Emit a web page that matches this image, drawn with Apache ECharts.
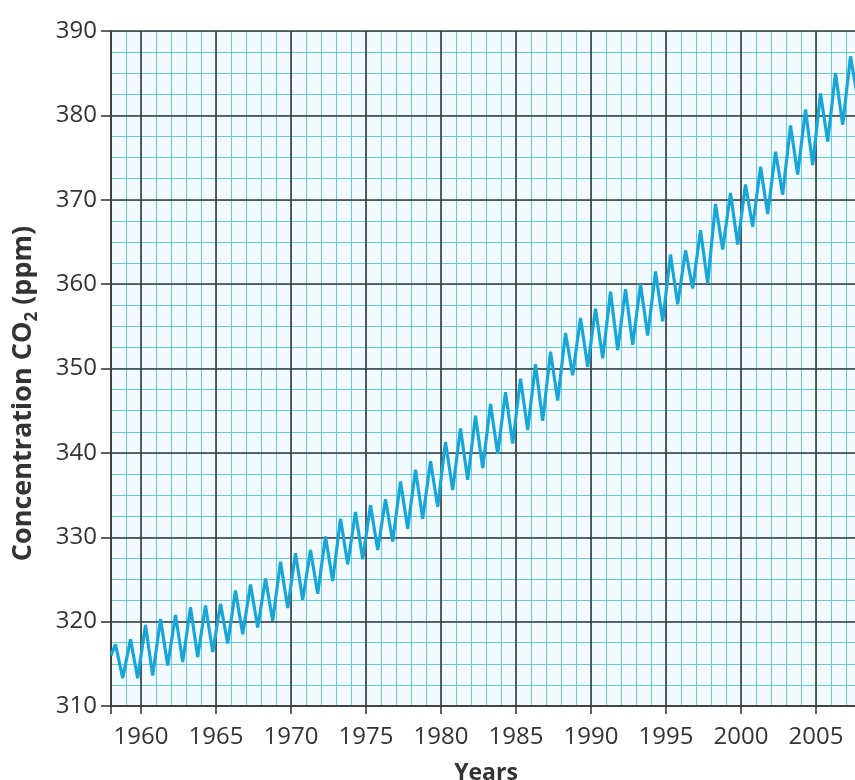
<!DOCTYPE html>
<html><head><meta charset="utf-8">
<script src="https://cdn.jsdelivr.net/npm/echarts@6/dist/echarts.min.js"></script>
<style>html,body{margin:0;padding:0;background:#fff}#c{width:855px;height:780px}</style>
</head><body><div id="c"></div>
<script>
// Mauna Loa CO2 (ppm): yearly seasonal peak (spring) and trough (autumn)
const years = [1958,1959,1960,1961,1962,1963,1964,1965,1966,1967,1968,1969,1970,1971,1972,1973,1974,1975,1976,1977,1978,1979,1980,1981,1982,1983,1984,1985,1986,1987,1988,1989,1990,1991,1992,1993,1994,1995,1996,1997,1998,1999,2000,2001,2002,2003,2004,2005,2006,2007];
const peakValues = [317.3,317.9,319.6,320.3,320.8,321.7,321.9,322.1,323.7,324.4,325.1,327.1,328.1,328.5,330.1,332.2,333.0,333.8,334.5,336.6,338.0,339.0,341.3,342.9,344.4,345.8,347.2,348.8,350.5,352.0,354.2,356.0,357.1,359.1,359.4,360.0,361.5,363.5,364.0,366.4,369.5,370.8,371.8,373.9,375.7,378.8,380.7,382.6,385.0,387.0];
const troughValues = [313.3,313.3,313.6,314.8,315.2,315.8,316.4,317.4,318.5,319.3,320.1,321.6,322.6,323.3,324.8,326.8,327.4,328.5,329.5,331.0,332.2,333.6,335.6,336.8,338.2,339.9,341.1,342.7,343.8,346.2,349.2,350.2,351.2,352.2,352.8,353.9,355.6,357.6,359.5,360.1,364.1,364.7,366.8,368.3,370.6,373.0,374.1,376.9,378.9,382.0];
const firstPoint = [1958.0, 316.0];
const peakTime = 0.3, troughTime = 0.78; // position within the year
const xTickLabels = [1960,1965,1970,1975,1980,1985,1990,1995,2000,2005];
const yTickLabels = [310,320,330,340,350,360,370,380,390];

const MINOR = '#66c9e4', MAJOR = '#3a3a3a', LINE = '#18a6d8', TXT = '#333333';
const FONT = '"Open Sans", "Noto Sans", sans-serif';

const data = [firstPoint];
years.forEach((y, i) => {
  data.push([y + peakTime, peakValues[i]]);
  data.push([y + troughTime, troughValues[i]]);
});

const chart = echarts.init(document.getElementById('c'), null, {renderer: 'canvas'});
chart.setOption({
  animation: false,
  grid: {left: 111, top: 31, width: 750, height: 675, show: true, backgroundColor: '#f4fbfe', borderWidth: 0,
         containLabel: false, outerBoundsMode: 'none'},
  xAxis: [
    {type: 'value', min: 1958, max: 2008, interval: 1, position: 'top', z: 0,
     axisLine: {show: false}, axisTick: {show: false}, axisLabel: {show: false},
     splitLine: {show: true, lineStyle: {color: MINOR, width: 1}}},
    {type: 'value', min: 1958, max: 2008, interval: 1, position: 'bottom', z: 2,
     axisLine: {show: true, onZero: false, lineStyle: {color: MAJOR, width: 1.6}},
     axisTick: {show: true, length: 8, customValues: [1958].concat(xTickLabels), lineStyle: {color: MAJOR, width: 1.6}},
     axisLabel: {customValues: xTickLabels, margin: 19, color: TXT, fontSize: 24, fontFamily: FONT, formatter: v => String(v)},
     splitLine: {show: true, lineStyle: {color: MAJOR, width: 1.6}},
     name: 'Years', nameLocation: 'middle', nameGap: 56,
     nameTextStyle: {color: TXT, fontSize: 23, fontWeight: 'bold', fontFamily: FONT}}
  ],
  yAxis: [
    {type: 'value', min: 310, max: 390, interval: 2.5, position: 'right', z: 0,
     axisLine: {show: false}, axisTick: {show: false}, axisLabel: {show: false},
     splitLine: {show: true, lineStyle: {color: MINOR, width: 1}}},
    {type: 'value', min: 310, max: 390, interval: 10, position: 'left', z: 2,
     axisLine: {show: true, onZero: false, lineStyle: {color: MAJOR, width: 1.6}},
     axisTick: {show: true, length: 10, lineStyle: {color: MAJOR, width: 1.6}},
     axisLabel: {margin: 14, color: TXT, fontSize: 24, fontFamily: FONT,
                 formatter: v => (yTickLabels.indexOf(v) >= 0 ? String(v) : '')},
     splitLine: {show: true, lineStyle: {color: MAJOR, width: 1.6}},
     name: '{a|Concentration CO}{s|2}{a| (ppm)}', nameLocation: 'middle', nameGap: 70,
     nameTextStyle: {color: TXT, fontSize: 28, fontWeight: 'bold', fontFamily: FONT, padding: [0, 50, 0, 0],
       rich: {a: {fontSize: 27, fontWeight: 'bold', fontFamily: FONT, color: TXT, lineHeight: 36, verticalAlign: 'middle'},
              s: {fontSize: 17, fontWeight: 'bold', fontFamily: FONT, color: TXT, verticalAlign: 'bottom'}}}}
  ],
  series: [{
    type: 'line', xAxisIndex: 1, yAxisIndex: 1, data: data, showSymbol: false, symbol: 'none',
    lineStyle: {color: LINE, width: 3.2}, z: 5, clip: true
  }]
});
</script></body></html>
